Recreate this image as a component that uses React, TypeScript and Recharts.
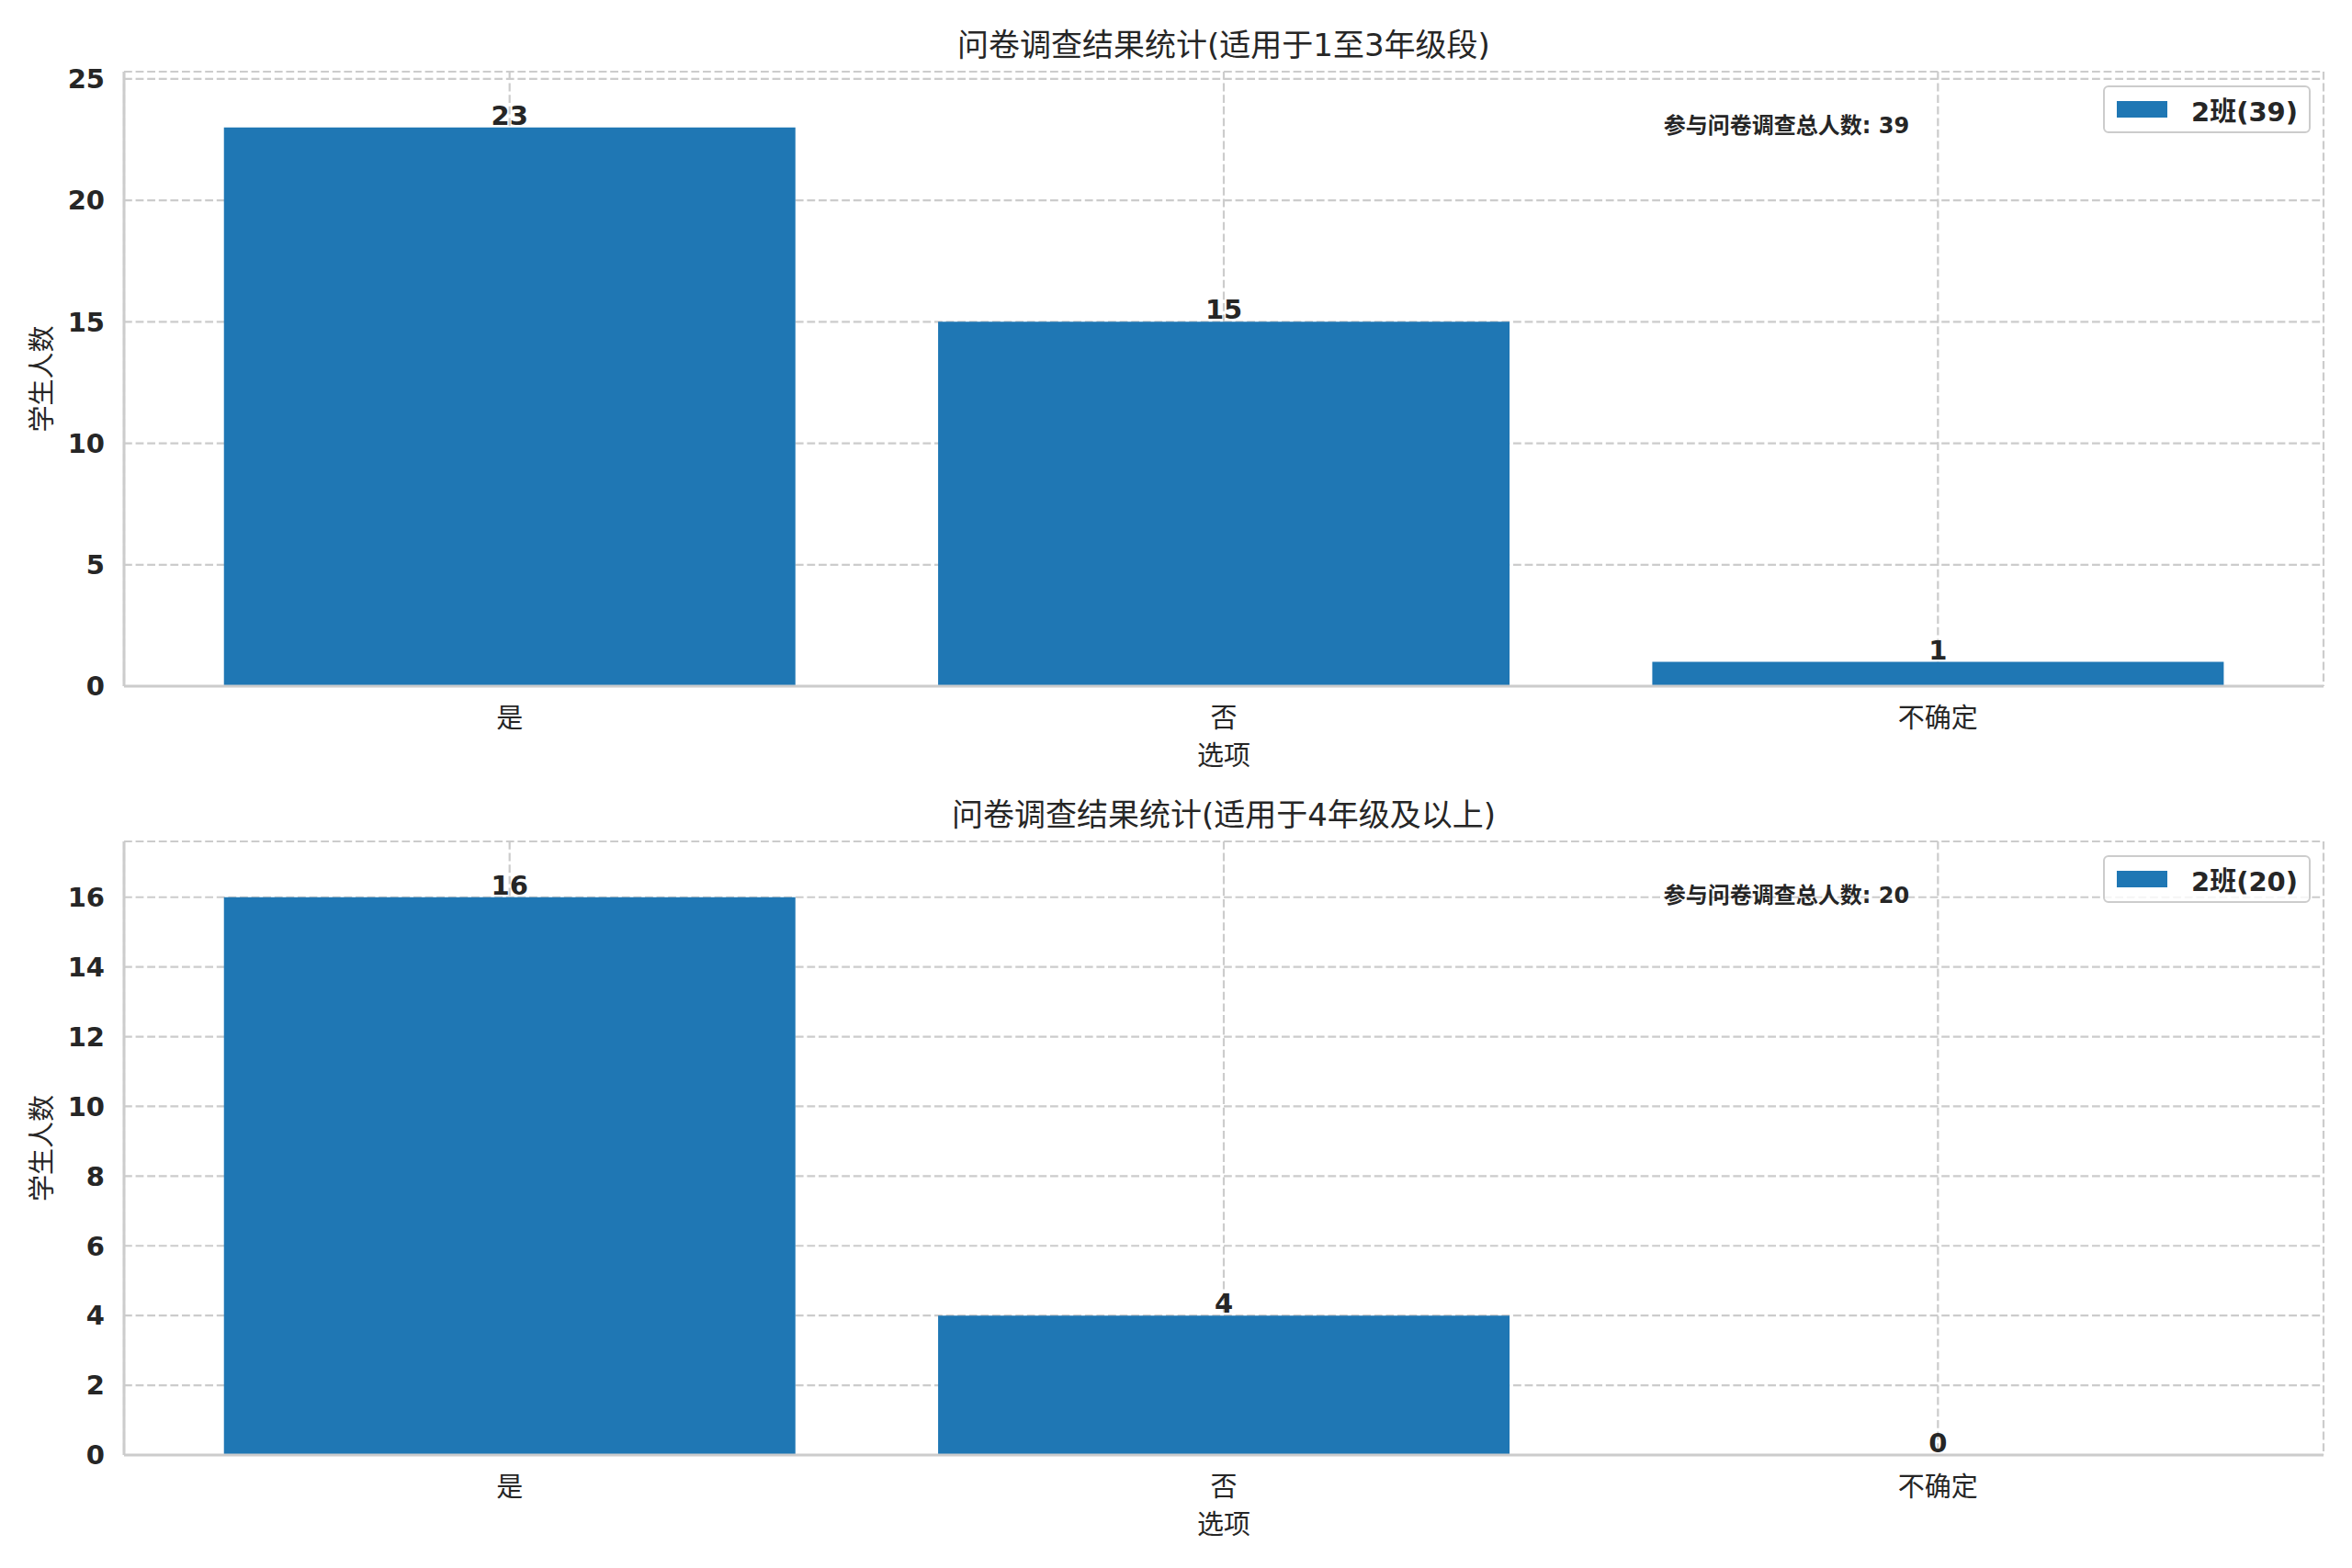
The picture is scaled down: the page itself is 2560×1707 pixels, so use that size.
import { BarChart, Bar, XAxis, YAxis, CartesianGrid, LabelList } from 'recharts';

const categories = ['是', '否', '不确定'];
const lowerGradeCounts = [23, 15, 1];
const upperGradeCounts = [16, 4, 0];
const lowerTicks = [0, 5, 10, 15, 20, 25];
const upperTicks = [0, 2, 4, 6, 8, 10, 12, 14, 16];
const groupName = '2班';
const titles = ['问卷调查结果统计(适用于1至3年级段)', '问卷调查结果统计(适用于4年级及以上)'];
const xLabel = '选项';
const yLabel = '学生人数';
const totalLabel = '参与问卷调查总人数';

const TEXT = '#262626';
const GRID = '#cccccc';
const BLUE = '#1f77b4';
const FONT = '"DejaVu Sans", "Noto Sans CJK SC", sans-serif';

const W = 2560;
const PLOT_LEFT = 135;
const PLOT_RIGHT = 31;

interface PanelProps {
  top: number;
  height: number;
  plotTop: number;
  plotBottom: number;
  counts: number[];
  ticks: number[];
  yMax: number;
  title: string;
}

function Panel({ top, height, plotTop, plotBottom, counts, ticks, yMax, title }: PanelProps) {
  const data = categories.map((name, i) => ({ name, count: counts[i] }));
  const total = counts.reduce((a, b) => a + b, 0);
  const legendName = `${groupName}(${total})`;
  const plotWidth = W - PLOT_LEFT - PLOT_RIGHT;

  const renderXLabel = (p: any) => {
    const vb = p.viewBox;
    return (
      <text x={vb.x + vb.width / 2} y={vb.y + 76} textAnchor="middle" dominantBaseline="central"
        fontSize={29} fill={TEXT}>{xLabel}</text>
    );
  };
  const renderYLabel = (p: any) => {
    const vb = p.viewBox;
    const cy = vb.y + vb.height / 2;
    return (
      <text x={46} y={cy} transform={`rotate(-90, 46, ${cy})`} textAnchor="middle" dominantBaseline="central"
        fontSize={29} fill={TEXT}>{yLabel}</text>
    );
  };

  return (
    <div style={{ position: 'absolute', left: 0, top, width: W, height }}>
      <BarChart width={W} height={height} data={data} barCategoryGap="10%"
        margin={{ top: plotTop, right: PLOT_RIGHT, left: 0, bottom: 0 }}>
        <CartesianGrid stroke={GRID} strokeWidth={2.2} strokeDasharray="8.8 3.8" />
        <XAxis dataKey="name" type="category" height={height - plotBottom} padding={{ left: 31, right: 31 }}
          axisLine={{ stroke: GRID, strokeWidth: 3 }} tickLine={false} tickSize={0} tickMargin={24}
          tick={{ fontSize: 29, fill: TEXT }} interval={0}
          label={{ value: xLabel, content: renderXLabel }} />
        <XAxis xAxisId="top" dataKey="name" orientation="top" height={0} tick={false} tickLine={false}
          axisLine={{ stroke: GRID, strokeWidth: 3 }} />
        <YAxis width={PLOT_LEFT} domain={[0, yMax]} ticks={ticks} allowDataOverflow
          axisLine={{ stroke: GRID, strokeWidth: 3 }} tickLine={false} tickSize={0} tickMargin={21}
          tick={{ fontSize: 29, fontWeight: 'bold', fill: TEXT }}
          label={{ value: yLabel, content: renderYLabel }} />
        <YAxis yAxisId="right" orientation="right" width={0} tick={false} tickLine={false}
          axisLine={{ stroke: GRID, strokeWidth: 3 }} />
        <Bar dataKey="count" name={legendName} fill={BLUE} minPointSize={0.01} isAnimationActive={false}>
          <LabelList dataKey="count" position="top" offset={3}
            style={{ fontSize: 29, fontWeight: 'bold', fill: TEXT }} />
        </Bar>
      </BarChart>
      <div style={{
        position: 'absolute', left: PLOT_LEFT, width: plotWidth, top: plotTop - 29 - 20, height: 40,
        lineHeight: '40px', textAlign: 'center', fontSize: 34, color: TEXT,
      }}>{title}</div>
      <div style={{
        position: 'absolute', left: PLOT_LEFT + plotWidth * 0.7, top: plotTop + 59 - 14, height: 28,
        lineHeight: '28px', fontSize: 24, fontWeight: 'bold', color: TEXT, whiteSpace: 'nowrap',
      }}>{`${totalLabel}: ${total}`}</div>
      <div style={{
        position: 'absolute', right: W - 2515, top: plotTop + 15, height: 48,
        border: `2px solid ${GRID}`, borderRadius: 6, background: 'rgba(255,255,255,0.8)',
        display: 'flex', alignItems: 'center', padding: '0 12px 0 13px', boxSizing: 'content-box',
      }}>
        <div style={{ width: 55, height: 18, background: BLUE, marginRight: 26 }} />
        <span style={{ fontSize: 29, fontWeight: 'bold', color: TEXT, whiteSpace: 'nowrap' }}>{legendName}</span>
      </div>
    </div>
  );
}

export default function App() {
  return (
    <div style={{
      position: 'absolute', left: 0, top: 0, width: W, height: 1707, background: '#fff',
      fontFamily: FONT, overflow: 'hidden',
    }}>
      <Panel top={0} height={853} plotTop={78} plotBottom={747}
        counts={lowerGradeCounts} ticks={lowerTicks} yMax={25.3} title={titles[0]} />
      <Panel top={853} height={854} plotTop={63} plotBottom={731}
        counts={upperGradeCounts} ticks={upperTicks} yMax={17.6} title={titles[1]} />
    </div>
  );
}
